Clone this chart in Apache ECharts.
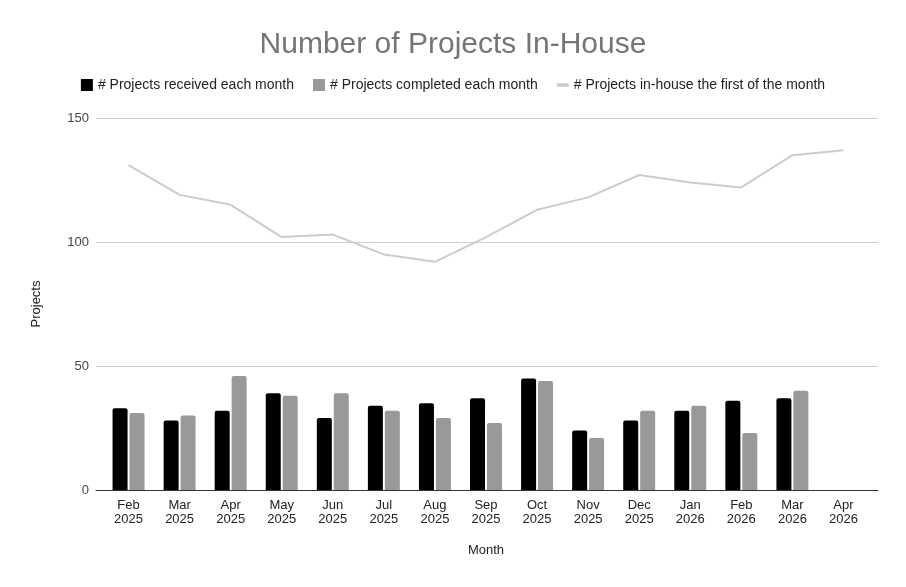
<!DOCTYPE html>
<html><head><meta charset="utf-8">
<script src="https://cdn.jsdelivr.net/npm/echarts@6/dist/echarts.min.js"></script>
<style>html,body{margin:0;padding:0;background:#fff}#c{width:906px;height:587px}</style>
</head><body><div id="c"></div>
<script>
const months = ['Feb\n2025','Mar\n2025','Apr\n2025','May\n2025','Jun\n2025','Jul\n2025','Aug\n2025','Sep\n2025','Oct\n2025','Nov\n2025','Dec\n2025','Jan\n2026','Feb\n2026','Mar\n2026','Apr\n2026'];
const received = [33,28,32,39,29,34,35,37,45,24,28,32,36,37,null];
const completed = [31,30,46,38,39,32,29,27,44,21,32,34,23,40,null];
const inHouse = [131,119,115,102,103,95,92,102,113,118,127,124,122,135,137];
const yTicks = {min:0, max:150, interval:50};

const font = 'Arial, "Liberation Sans", sans-serif';
const chart = echarts.init(document.getElementById('c'));
chart.setOption({
  backgroundColor:'#fff',
  animation:false,
  title:{text:'Number of Projects In-House', left:'center', top:25,
    textStyle:{fontFamily:font, fontSize:30, fontWeight:'normal', color:'#757575'}},
  legend:{top:73, left:'center', itemGap:19, itemWidth:12, itemHeight:12,
    textStyle:{fontFamily:font, fontSize:14, color:'#222'},
    data:[{name:'# Projects received each month', icon:'rect'},
          {name:'# Projects completed each month', icon:'rect'},
          {name:'# Projects in-house the first of the month', icon:'path://M0,0 L10,0 L10,3 L0,3 Z', itemStyle:{color:'#cccccc'}}]},
  grid:[
    {left:103, right:37, top:118, bottom:97},
    {left:96, right:28, top:118, bottom:97}
  ],
  xAxis:[
    {type:'category', gridIndex:0, data:months, boundaryGap:true,
      axisLine:{show:false}, axisTick:{show:false},
      axisLabel:{fontFamily:font, fontSize:13, color:'#222', lineHeight:14, margin:8, interval:0},
      name:'Month', nameLocation:'middle', nameGap:54,
      nameTextStyle:{fontFamily:font, fontSize:13, color:'#222'}},
    {type:'value', gridIndex:1, min:0, max:1, show:true,
      axisLine:{show:true, lineStyle:{color:'#333', width:1}}, axisTick:{show:false},
      axisLabel:{show:false}, splitLine:{show:false}}
  ],
  yAxis:[
    {type:'value', gridIndex:0, min:yTicks.min, max:yTicks.max, interval:yTicks.interval,
      axisLine:{show:false}, axisTick:{show:false}, splitLine:{show:false},
      axisLabel:{show:false},
      name:'Projects', nameLocation:'middle', nameGap:60,
      nameTextStyle:{fontFamily:font, fontSize:13, color:'#222'}},
    {type:'value', gridIndex:1, min:yTicks.min, max:yTicks.max, interval:yTicks.interval,
      axisLine:{show:false}, axisTick:{show:false},
      splitLine:{show:true, lineStyle:{color:'#cccccc', width:1}},
      axisLabel:{fontFamily:font, fontSize:13, color:'#444', margin:7}}
  ],
  series:[
    {name:'# Projects received each month', type:'bar', xAxisIndex:0, yAxisIndex:0,
      data:received, barWidth:15, barGap:'13%', itemStyle:{color:'#000000', borderRadius:[2,2,0,0]}},
    {name:'# Projects completed each month', type:'bar', xAxisIndex:0, yAxisIndex:0,
      data:completed, barWidth:15, barGap:'13%', itemStyle:{color:'#999999', borderRadius:[2,2,0,0]}},
    {name:'# Projects in-house the first of the month', type:'line', xAxisIndex:0, yAxisIndex:0,
      data:inHouse, symbol:'none', lineStyle:{color:'#cccccc', width:2}, itemStyle:{color:'#cccccc'}}
  ]
});
</script></body></html>
